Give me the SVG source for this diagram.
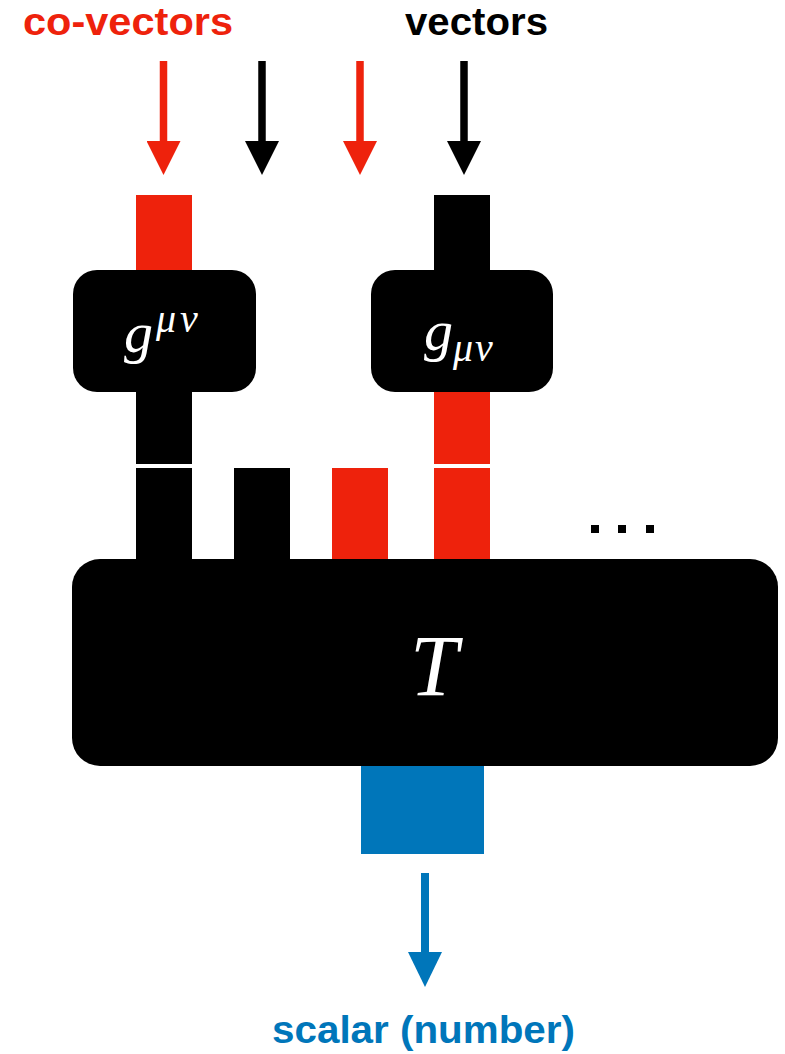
<svg xmlns="http://www.w3.org/2000/svg" width="785" height="1054" viewBox="0 0 785 1054">
<style>
.lbl{font-family:"Liberation Sans",Arial,sans-serif;font-weight:bold;font-size:38px}
.math{font-family:"Liberation Serif","Times New Roman",serif;font-style:italic;fill:#fff}
.red{fill:#EE220C}
.blk{fill:#000}
.blu{fill:#0076BA}
</style>
<defs>
<marker id="hr" markerWidth="34" markerHeight="34" refX="0" refY="17" orient="auto" markerUnits="userSpaceOnUse" viewBox="0 0 34 34"><path d="M0,0 L34,17 L0,34 Z" fill="#EE220C"/></marker>
<marker id="hk" markerWidth="34" markerHeight="34" refX="0" refY="17" orient="auto" markerUnits="userSpaceOnUse" viewBox="0 0 34 34"><path d="M0,0 L34,17 L0,34 Z" fill="#000"/></marker>
<marker id="hb" markerWidth="35" markerHeight="34" refX="0" refY="17" orient="auto" markerUnits="userSpaceOnUse" viewBox="0 0 35 34"><path d="M0,0 L35,17 L0,34 Z" fill="#0076BA"/></marker>
</defs>
<rect width="785" height="1054" fill="#fff"/>
<text class="lbl red" x="23" y="35" textLength="210" lengthAdjust="spacingAndGlyphs">co-vectors</text>
<text class="lbl blk" x="405" y="35" textLength="143" lengthAdjust="spacingAndGlyphs">vectors</text>
<text class="lbl blu" x="272" y="1043" textLength="303" lengthAdjust="spacingAndGlyphs">scalar (number)</text>
<g id="connectors">
<line x1="163.5" y1="61" x2="163.5" y2="141" stroke="#EE220C" stroke-width="7.5" marker-end="url(#hr)"/>
<line x1="262" y1="61" x2="262" y2="141" stroke="#000" stroke-width="7.5" marker-end="url(#hk)"/>
<line x1="360" y1="61" x2="360" y2="141" stroke="#EE220C" stroke-width="7.5" marker-end="url(#hr)"/>
<line x1="464" y1="61" x2="464" y2="141" stroke="#000" stroke-width="7.5" marker-end="url(#hk)"/>
<line x1="425" y1="873" x2="425" y2="952" stroke="#0076BA" stroke-width="8" marker-end="url(#hb)"/>
</g>
<g id="g-upper">
<rect class="red" x="136" y="195" width="56" height="80"/>
<rect class="blk" x="136" y="385" width="56" height="79"/>
<rect class="blk" x="73" y="270" width="183" height="122" rx="24"/>
<text class="math" x="124" y="352" font-size="58">g<tspan font-size="40" dx="3" dy="-20" letter-spacing="4">μν</tspan></text>
</g>
<g id="g-lower">
<rect class="blk" x="434" y="195" width="56" height="80"/>
<rect class="red" x="434" y="385" width="56" height="79"/>
<rect class="blk" x="371" y="270" width="182" height="122" rx="24"/>
<text class="math" x="424" y="350" font-size="58">g<tspan font-size="40" dy="11" letter-spacing="2">μν</tspan></text>
</g>
<g id="T">
<rect class="blk" x="136" y="468" width="56" height="100"/>
<rect class="blk" x="234" y="468" width="56" height="100"/>
<rect class="red" x="332" y="468" width="56" height="100"/>
<rect class="red" x="434" y="468" width="56" height="100"/>
<rect class="blu" x="361" y="750" width="123" height="104"/>
<rect class="blk" x="72" y="559" width="706" height="207" rx="28"/>
<text class="math" x="434" y="695" font-size="86" text-anchor="middle">T</text>
<rect class="blk" x="591" y="525" width="8" height="8"/>
<rect class="blk" x="618" y="525" width="8" height="8"/>
<rect class="blk" x="646" y="525" width="8" height="8"/>
</g>
</svg>
